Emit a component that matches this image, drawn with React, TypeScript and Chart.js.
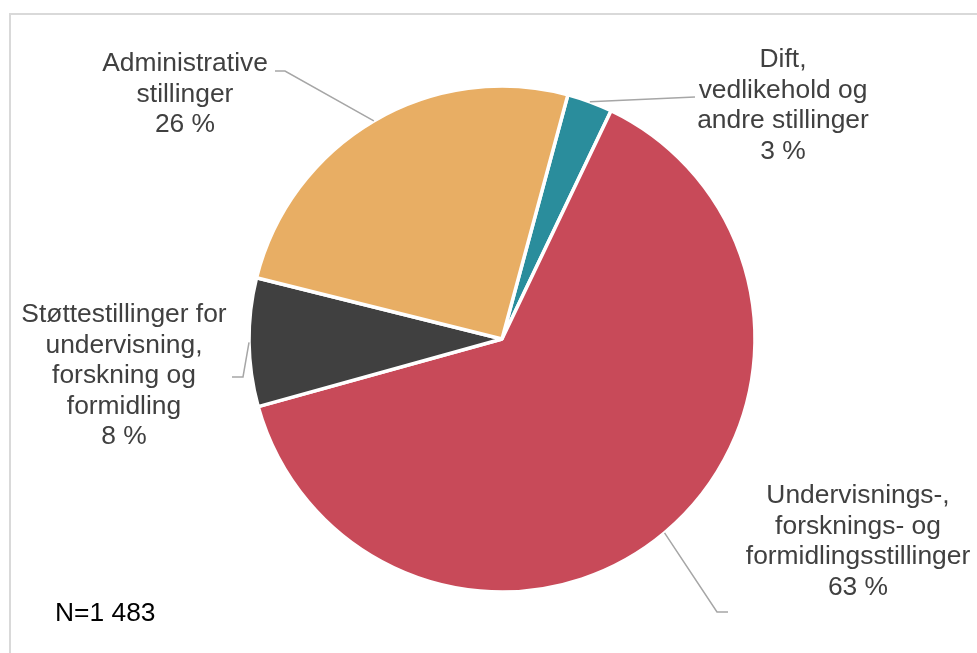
import React, { useEffect, useRef } from "react";
import { Chart, registerables } from "chart.js";

Chart.register(...registerables);

// Data (order clockwise, starting at the top-right slice)
const categories: string[][] = [
  ["Dift,", "vedlikehold og", "andre stillinger"],
  ["Undervisnings-,", "forsknings- og", "formidlingsstillinger"],
  ["Støttestillinger for", "undervisning,", "forskning og", "formidling"],
  ["Administrative", "stillinger"],
];
const shareValues: number[] = [2.9, 63.6, 8.2, 25.3];
const percentLabels: string[] = ["3 %", "63 %", "8 %", "26 %"];
const noteText = "N=1 483";

const sliceColors = ["#2A8D9C", "#C84A59", "#404040", "#E8AE64"];

// Label layout (text center x, first baseline y, leader elbow and end)
const labelLayout = [
  { cx: 783, y0: 67, elbow: [695, 97], end: [695, 97] },
  { cx: 858, y0: 503, elbow: [717, 612], end: [728, 612] },
  { cx: 124, y0: 322, elbow: [243, 377], end: [232, 377] },
  { cx: 185, y0: 71, elbow: [285, 71], end: [275, 71] },
];

const FONT = "26.4px 'Liberation Sans', Arial, sans-serif";
const LINE_H = 30.5;

const labelPlugin = {
  id: "outsideLabels",
  afterDatasetsDraw(chart: any) {
    const ctx = chart.ctx as CanvasRenderingContext2D;
    const meta = chart.getDatasetMeta(0);
    ctx.save();
    meta.data.forEach((arc: any, i: number) => {
      const mid = (arc.startAngle + arc.endAngle) / 2;
      const ex = arc.x + Math.cos(mid) * arc.outerRadius;
      const ey = arc.y + Math.sin(mid) * arc.outerRadius;
      const lay = labelLayout[i];
      ctx.strokeStyle = "#A6A6A6";
      ctx.lineWidth = 1.5;
      ctx.beginPath();
      ctx.moveTo(ex, ey);
      ctx.lineTo(lay.elbow[0], lay.elbow[1]);
      ctx.lineTo(lay.end[0], lay.end[1]);
      ctx.stroke();

      ctx.fillStyle = "#404040";
      ctx.font = FONT;
      ctx.textAlign = "center";
      ctx.textBaseline = "alphabetic";
      const lines = [...categories[i], percentLabels[i]];
      lines.forEach((t, k) => {
        ctx.fillText(t, lay.cx, lay.y0 + k * LINE_H);
      });
    });
    ctx.fillStyle = "#000000";
    ctx.textAlign = "left";
    ctx.font = FONT;
    ctx.fillText(noteText, 55, 621);
    ctx.restore();
  },
};

export default function App() {
  const ref = useRef<HTMLCanvasElement | null>(null);
  useEffect(() => {
    if (!ref.current) return;
    const chart = new Chart(ref.current, {
      type: "pie",
      data: {
        labels: categories.map((c) => c.join(" ")),
        datasets: [
          {
            data: shareValues,
            backgroundColor: sliceColors,
            borderColor: "#FFFFFF",
            borderWidth: 3.5,
          },
        ],
      },
      options: {
        responsive: false,
        animation: false,
        rotation: 15.1,
        radius: 253,
        layout: { padding: { left: 249, right: 222, top: 86, bottom: 61 } },
        plugins: {
          legend: { display: false },
          tooltip: { enabled: false },
        },
      },
      plugins: [labelPlugin],
    } as any);
    return () => chart.destroy();
  }, []);

  return (
    <div
      style={{
        position: "absolute",
        left: 0,
        top: 0,
        width: 977,
        height: 653,
        background: "#fff",
        overflow: "hidden",
      }}
    >
      <div
        style={{
          position: "absolute",
          left: 9,
          top: 13,
          width: 980,
          height: 660,
          borderTop: "2px solid #D9D9D9",
          borderLeft: "2px solid #D9D9D9",
        }}
      />
      <canvas
        ref={ref}
        width={977}
        height={653}
        style={{ position: "absolute", left: 0, top: 0, width: 977, height: 653 }}
      />
    </div>
  );
}
